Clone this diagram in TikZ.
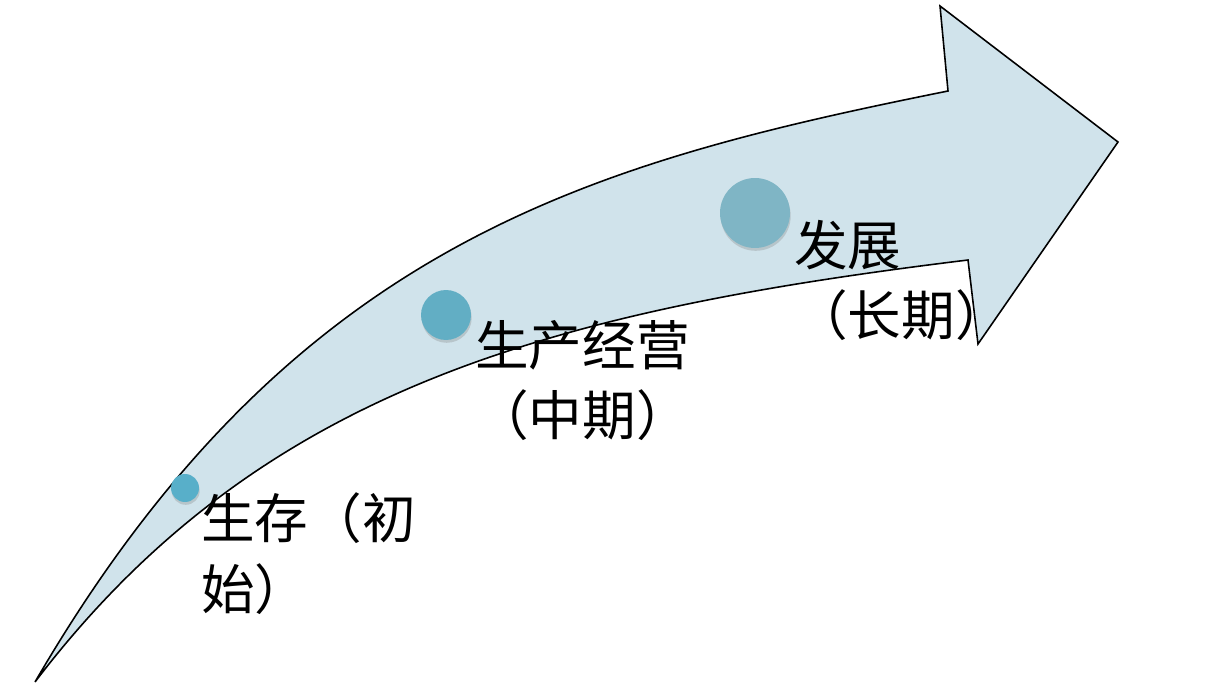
\documentclass[tikz,border=0pt]{standalone}
\usepackage{fontspec}
\newfontfamily\cjk{Noto Sans CJK SC}
\usetikzlibrary{shadows}
\definecolor{bandfill}{HTML}{D0E3EB}
\definecolor{dotA}{HTML}{58AFC9}
\definecolor{dotB}{HTML}{62AEC4}
\definecolor{dotC}{HTML}{7FB5C5}
\begin{document}
\begin{tikzpicture}[x=0.02cm, y=-0.02cm,
    every node/.style={font=\cjk\fontsize{30.5}{40}\selectfont, align=left},
    stage/.style={anchor=base west, inner sep=0pt},
    dot/.style={circle, inner sep=0pt, draw=none, drop shadow={shadow xshift=0.4pt, shadow yshift=-1.6pt, opacity=0.3}}
]
\useasboundingbox (0,0) rectangle (1223,685);
% curved band with arrow head
\draw[fill=bandfill, line width=0.9pt, line join=miter]
    (35,682) .. controls (291,242) and (591,163) .. (948,91)
    -- (940,6) -- (1118,142) -- (978,344) -- (968,260)
    .. controls (551,311) and (259,388) .. cycle;
% stages (base = last line)
\node[dot, fill=dotA, minimum size=0.56cm] (d1) at (185,488) {};
\node[dot, fill=dotB, minimum size=1.0cm]  (d2) at (446,315) {};
\node[dot, fill=dotC, minimum size=1.4cm]  (d3) at (755,213) {};
\node[stage] (surv) at (201,609) {生存（初\\始）};
\node[stage] (oper) at (475,436) {生产经营\\（中期）};
\node[stage] (grow) at (794,336) {发展\\（长期）};
\end{tikzpicture}
\end{document}
